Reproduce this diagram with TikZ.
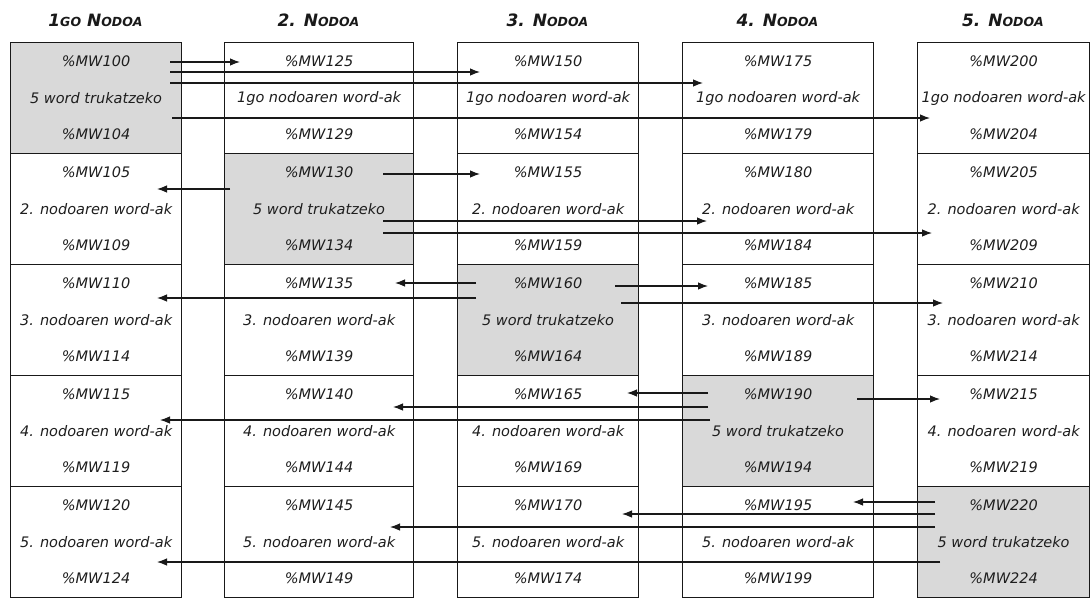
\documentclass[tikz,border=0pt]{standalone}
\usepackage{fontspec}
\setmainfont{DejaVu Sans}
\usetikzlibrary{arrows.meta}
\definecolor{cellgray}{RGB}{217,217,217}
\definecolor{ink}{RGB}{25,25,25}
\definecolor{txt}{RGB}{30,30,30}
% small capitals for the column titles
\newcommand\hsc[1]{{\fontsize{12.5}{12.5}\selectfont #1}}

\begin{document}
\begin{tikzpicture}[x=1pt,y=-1pt,
  cell/.style={draw=ink, line width=1.2pt, anchor=north west,
               minimum height=111pt, inner sep=0pt},
  lbl/.style={font=\fontsize{14.5}{14.5}\selectfont\itshape, text=txt, inner sep=0pt},
  hdr/.style={font=\fontsize{17}{17}\selectfont\bfseries\itshape, text=ink, inner sep=0pt},
  link/.style={draw=ink, line width=1.1pt, -{Latex[length=10pt,width=7.5pt]}}]
\useasboundingbox (0,0) rectangle (1091,597);

% five memory blocks, one per node, each split in five word groups
\foreach \c/\x/\w in {1/10/171,2/224/189,3/457/181,4/682/191,5/917/172} {
  \ifnum\c=1
    \node[hdr] (h\c) at (\x+\w/2,20) {1\hsc{GO} N\hsc{ODOA}};
  \else
    \node[hdr] (h\c) at (\x+\w/2,20) {\c. N\hsc{ODOA}};
  \fi
  \foreach \r in {1,...,5} {
    \pgfmathtruncatemacro\ytop{42+111*(\r-1)}
    \pgfmathtruncatemacro\na{100+25*(\c-1)+5*(\r-1)}
    \pgfmathtruncatemacro\nb{\na+4}
    \ifnum\c=\r
      \def\cellfill{cellgray}\def\midtext{5 word trukatzeko}
    \else
      \def\cellfill{white}
      \ifnum\r=1 \def\midtext{1go nodoaren word-ak}\else\edef\midtext{\r. nodoaren word-ak}\fi
    \fi
    \node[cell, fill=\cellfill, minimum width=\w] (c\c r\r) at (\x,\ytop) {};
    \node[lbl] (c\c r\r a) at ([yshift=-19pt]c\c r\r.north) {\%MW\na};
    \node[lbl] (c\c r\r b) at ([yshift=-56pt]c\c r\r.north) {\midtext};
    \node[lbl] (c\c r\r c) at ([yshift=-92pt]c\c r\r.north) {\%MW\nb};
  }
}

% word transfers from each node's own block to the other nodes
\foreach \s/\t/\xa/\ya/\xb/\yb in {
  1/2/170/62/240/62,   1/3/170/72/480/72,   1/4/170/83/703/83,   1/5/172/118/930/118,
  2/1/230/189/157/189, 2/3/383/174/480/174, 2/4/383/221/707/221, 2/5/383/233/932/233,
  3/2/476/283/395/283, 3/1/476/298/157/298, 3/4/615/286/708/286, 3/5/621/303/943/303,
  4/3/708/393/627/393, 4/2/708/407/393/407, 4/1/710/420/160/420, 4/5/857/399/940/399,
  5/4/935/502/853/502, 5/3/935/514/622/514, 5/2/935/527/390/527, 5/1/940/562/157/562} {
  \coordinate (from\s\t) at (\xa,\ya);
  \coordinate (to\s\t) at (\xb,\yb);
  \draw[link] (from\s\t) -- (to\s\t);
}
\end{tikzpicture}
\end{document}
